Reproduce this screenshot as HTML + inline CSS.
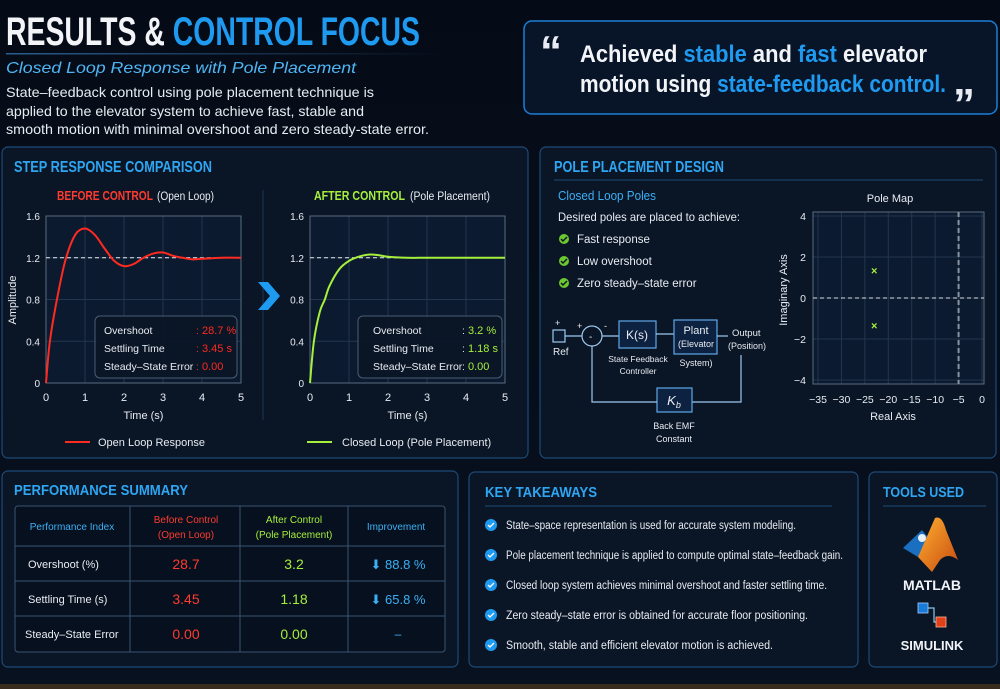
<!DOCTYPE html>
<html><head><meta charset="utf-8"><style>
html,body{margin:0;padding:0;background:#060d19;}
svg{display:block;font-family:"Liberation Sans",sans-serif;}
</style></head><body>
<svg id="root" width="1000" height="689" viewBox="0 0 1000 689" xmlns="http://www.w3.org/2000/svg">
<defs>
<linearGradient id="bg" x1="0" y1="0" x2="0" y2="1"><stop offset="0" stop-color="#050b16"/><stop offset="1" stop-color="#08111f"/></linearGradient>
<linearGradient id="hl" x1="0" y1="0" x2="1" y2="0"><stop offset="0" stop-color="#2a5d90"/><stop offset="1" stop-color="#2a5d90" stop-opacity="0"/></linearGradient>
<linearGradient id="ml" x1="0" y1="0" x2="1" y2="1"><stop offset="0" stop-color="#ffb030"/><stop offset="1" stop-color="#c84a10"/></linearGradient>
</defs>
<rect width="1000" height="689" fill="url(#bg)"/>
<rect x="0" y="684" width="1000" height="5" fill="#3a2c1c"/>

<!-- Header -->
<text x="6" y="45" font-size="40" font-weight="bold" fill="#f2f4f8" textLength="414" lengthAdjust="spacingAndGlyphs">RESULTS &amp; <tspan fill="#1e9bf0">CONTROL FOCUS</tspan></text>
<rect x="6" y="53" width="440" height="1.5" fill="url(#hl)"/>
<text x="6" y="73" font-size="16" font-style="italic" fill="#4fb6f5" textLength="350" lengthAdjust="spacingAndGlyphs">Closed Loop Response with Pole Placement</text>
<g font-size="14" fill="#e8ecf2">
<text x="6" y="97" textLength="368" lengthAdjust="spacingAndGlyphs">State–feedback control using pole placement technique is</text>
<text x="6" y="116" textLength="358" lengthAdjust="spacingAndGlyphs">applied to the elevator system to achieve fast, stable and</text>
<text x="6" y="134" textLength="423" lengthAdjust="spacingAndGlyphs">smooth motion with minimal overshoot and zero steady-state error.</text>
</g>
<g>
<rect x="524" y="21" width="473" height="93" rx="8" fill="#081428" stroke="#1a7fd6" stroke-width="1.5"/>
<text x="540" y="66" font-size="44" font-weight="bold" fill="#e8ecf2">“</text>
<text x="580" y="62" font-size="24" font-weight="bold" fill="#f2f4f8" textLength="347" lengthAdjust="spacingAndGlyphs">Achieved <tspan fill="#1e9bf0">stable</tspan> and <tspan fill="#1e9bf0">fast</tspan> elevator</text>
<text x="580" y="92" font-size="24" font-weight="bold" fill="#f2f4f8" textLength="366" lengthAdjust="spacingAndGlyphs">motion using <tspan fill="#1e9bf0">state-feedback control.</tspan></text>
<text x="953" y="119" font-size="44" font-weight="bold" fill="#e8ecf2">”</text>
</g>

<!-- Step response panel -->
<g>
<rect x="2" y="147" width="526" height="311" rx="6" fill="#0a1526" stroke="#1d4a78" stroke-width="1.2"/>
<text x="14" y="172" font-size="16" font-weight="bold" fill="#2ea6f2" textLength="198" lengthAdjust="spacingAndGlyphs">STEP RESPONSE COMPARISON</text>
<g>
<text x="57" y="200" font-size="13" font-weight="bold" fill="#ff3b2f" textLength="96" lengthAdjust="spacingAndGlyphs">BEFORE CONTROL</text>
<text x="157" y="200" font-size="11.5" fill="#e8ecf2" textLength="57" lengthAdjust="spacingAndGlyphs">(Open Loop)</text></g>
<g>
<text x="314" y="200" font-size="13" font-weight="bold" fill="#a6f03c" textLength="91" lengthAdjust="spacingAndGlyphs">AFTER CONTROL</text>
<text x="410" y="200" font-size="11.5" fill="#e8ecf2" textLength="80" lengthAdjust="spacingAndGlyphs">(Pole Placement)</text></g>
<line x1="263" y1="190" x2="263" y2="420" stroke="#1d3556" stroke-width="1"/>
<path d="M258,282 L268,282 L280,296 L268,310 L258,310 L270,296 Z" fill="#1e9bf0"/>
<g id="chartL"></g>
<g id="chartR"></g>
<text x="16" y="300" font-size="11" fill="#e8ecf2" text-anchor="middle" transform="rotate(-90 16 300)">Amplitude</text>
<g><line x1="65" y1="442" x2="90" y2="442" stroke="#ff2a20" stroke-width="2"/><text x="98" y="446" font-size="11" fill="#e8ecf2">Open Loop Response</text></g>
<g><line x1="307" y1="442" x2="332" y2="442" stroke="#a6f03c" stroke-width="2"/><text x="342" y="446" font-size="11" fill="#e8ecf2">Closed Loop (Pole Placement)</text></g>
</g>

<!-- Pole placement panel -->
<g>
<rect x="540" y="147" width="456" height="311" rx="6" fill="#0a1526" stroke="#1d4a78" stroke-width="1.2"/>
<text x="554" y="172" font-size="16" font-weight="bold" fill="#2ea6f2" textLength="170" lengthAdjust="spacingAndGlyphs">POLE PLACEMENT DESIGN</text>
<line x1="554" y1="180" x2="983" y2="180" stroke="#1d4a78"/>
<text x="558" y="200" font-size="13" fill="#3cb0f5" textLength="98" lengthAdjust="spacingAndGlyphs">Closed Loop Poles</text>
<text x="558" y="221" font-size="12" fill="#e8ecf2" textLength="182" lengthAdjust="spacingAndGlyphs">Desired poles are placed to achieve:</text>
<g font-size="11.5" fill="#e8ecf2">
<circle cx="564" cy="239" r="5" fill="#6cc830"/><path d="M561,239 l2,2 l4,-4" stroke="#0a1526" stroke-width="1.5" fill="none"/><text x="577" y="243">Fast response</text>
<circle cx="564" cy="261" r="5" fill="#6cc830"/><path d="M561,261 l2,2 l4,-4" stroke="#0a1526" stroke-width="1.5" fill="none"/><text x="577" y="265">Low overshoot</text>
<circle cx="564" cy="283" r="5" fill="#6cc830"/><path d="M561,283 l2,2 l4,-4" stroke="#0a1526" stroke-width="1.5" fill="none"/><text x="577" y="287">Zero steady–state error</text>
</g>
<g stroke="#9ec8ee" fill="none" stroke-width="1.2" font-size="10">
<rect x="553" y="330" width="12" height="12" fill="#0a1a30"/>
<line x1="565" y1="336" x2="582" y2="336"/>
<circle cx="592" cy="336" r="10"/>
<line x1="602" y1="336" x2="619" y2="336"/>
<rect x="619" y="321" width="37" height="27" fill="#0d2240" stroke="#5fa8e8"/>
<line x1="656" y1="334" x2="674" y2="334"/>
<rect x="674" y="320" width="43" height="34" fill="#0d2240" stroke="#5fa8e8"/>
<line x1="717" y1="336" x2="728" y2="336"/>
<polyline points="741,355 741,402 692,402"/>
<rect x="657" y="388" width="35" height="24" fill="#0d2240" stroke="#5fa8e8"/>
<polyline points="657,402 592,402 592,346"/>
<g fill="#e8ecf2" stroke="none">
<text x="553" y="355">Ref</text><text x="555" y="326" font-size="9">+</text><text x="577" y="329" font-size="9">+</text><text x="604" y="329" font-size="9">-</text><text x="589" y="340">-</text>
<text x="637" y="339" text-anchor="middle" font-size="12">K(s)</text>
<text x="696" y="334" text-anchor="middle" font-size="11">Plant</text><text x="696" y="347" text-anchor="middle" font-size="9">(Elevator</text>
<text x="696" y="366" text-anchor="middle" font-size="9">System)</text>
<text x="638" y="362" text-anchor="middle" font-size="8.5">State Feedback</text><text x="638" y="374" text-anchor="middle" font-size="8.5">Controller</text>
<text x="732" y="336" font-size="9.5">Output</text><text x="728" y="349" font-size="9">(Position)</text>
<text x="674" y="405" text-anchor="middle" font-size="13" font-style="italic">K<tspan font-size="9" dy="3">b</tspan></text>
<text x="674" y="429" text-anchor="middle" font-size="9">Back EMF</text><text x="674" y="442" text-anchor="middle" font-size="9">Constant</text>
</g></g>
<g id="poleMap"></g>
<text x="890" y="202" font-size="11" fill="#e8ecf2" text-anchor="middle">Pole Map</text>
<text x="893" y="420" font-size="11" fill="#e8ecf2" text-anchor="middle">Real Axis</text>
<text x="787" y="290" font-size="11" fill="#e8ecf2" text-anchor="middle" transform="rotate(-90 787 290)">Imaginary Axis</text>
</g>

<!-- Performance summary -->
<g>
<rect x="2" y="471" width="456" height="196" rx="6" fill="#0a1526" stroke="#1d4a78" stroke-width="1.2"/>
<text x="14" y="495" font-size="15" font-weight="bold" fill="#2ea6f2" textLength="174" lengthAdjust="spacingAndGlyphs">PERFORMANCE SUMMARY</text>
<g>
<rect x="15" y="506" width="430" height="146" rx="3" fill="#07101e" stroke="#3a5573"/>
<g stroke="#3a5573"><line x1="130" y1="506" x2="130" y2="652"/><line x1="240" y1="506" x2="240" y2="652"/><line x1="348" y1="506" x2="348" y2="652"/>
<line x1="15" y1="546" x2="445" y2="546"/><line x1="15" y1="581" x2="445" y2="581"/><line x1="15" y1="616" x2="445" y2="616"/></g>
<g font-size="10" text-anchor="middle">
<text x="72" y="530" fill="#3cb0f5">Performance Index</text>
<text x="186" y="523" fill="#ff3b2f">Before Control</text><text x="186" y="538" fill="#ff3b2f">(Open Loop)</text>
<text x="294" y="523" fill="#a6f03c">After Control</text><text x="294" y="538" fill="#a6f03c">(Pole Placement)</text>
<text x="396" y="530" fill="#3cb0f5">Improvement</text></g>
<g font-size="11" fill="#e8ecf2"><text x="28" y="568">Overshoot (%)</text><text x="28" y="603">Settling Time (s)</text><text x="25" y="638">Steady–State Error</text></g>
<g font-size="14" text-anchor="middle">
<text x="186" y="569" fill="#ff3b2f">28.7</text><text x="186" y="604" fill="#ff3b2f">3.45</text><text x="186" y="639" fill="#ff3b2f">0.00</text>
<text x="294" y="569" fill="#a6f03c">3.2</text><text x="294" y="604" fill="#a6f03c">1.18</text><text x="294" y="639" fill="#a6f03c">0.00</text>
<text x="398" y="569" fill="#3cb0f5" font-size="13">⬇ 88.8 %</text><text x="398" y="604" fill="#3cb0f5" font-size="13">⬇ 65.8 %</text><text x="398" y="638" fill="#3cb0f5" font-size="12">–</text></g>
</g></g>

<!-- Key takeaways -->
<g>
<rect x="469" y="472" width="389" height="195" rx="6" fill="#0a1526" stroke="#1d4a78" stroke-width="1.2"/>
<text x="485" y="497" font-size="15" font-weight="bold" fill="#2ea6f2" textLength="112" lengthAdjust="spacingAndGlyphs">KEY TAKEAWAYS</text>
<line x1="485" y1="506" x2="832" y2="506" stroke="#1d4a78"/>
<g font-size="11.5" fill="#e8ecf2">
<g><circle cx="491" cy="525" r="6" fill="#1e9bf0"/><path d="M488,525 l2,2 l4,-4" stroke="#fff" stroke-width="1.3" fill="none"/><text x="506" y="529" textLength="290" lengthAdjust="spacingAndGlyphs">State–space representation is used for accurate system modeling.</text></g>
<g><circle cx="491" cy="555" r="6" fill="#1e9bf0"/><path d="M488,555 l2,2 l4,-4" stroke="#fff" stroke-width="1.3" fill="none"/><text x="506" y="559" textLength="337" lengthAdjust="spacingAndGlyphs">Pole placement technique is applied to compute optimal state–feedback gain.</text></g>
<g><circle cx="491" cy="585" r="6" fill="#1e9bf0"/><path d="M488,585 l2,2 l4,-4" stroke="#fff" stroke-width="1.3" fill="none"/><text x="506" y="589" textLength="321" lengthAdjust="spacingAndGlyphs">Closed loop system achieves minimal overshoot and faster settling time.</text></g>
<g><circle cx="491" cy="615" r="6" fill="#1e9bf0"/><path d="M488,615 l2,2 l4,-4" stroke="#fff" stroke-width="1.3" fill="none"/><text x="506" y="619" textLength="302" lengthAdjust="spacingAndGlyphs">Zero steady–state error is obtained for accurate floor positioning.</text></g>
<g><circle cx="491" cy="645" r="6" fill="#1e9bf0"/><path d="M488,645 l2,2 l4,-4" stroke="#fff" stroke-width="1.3" fill="none"/><text x="506" y="649" textLength="267" lengthAdjust="spacingAndGlyphs">Smooth, stable and efficient elevator motion is achieved.</text></g>
</g></g>

<!-- Tools used -->
<g>
<rect x="869" y="472" width="128" height="195" rx="6" fill="#0a1526" stroke="#1d4a78" stroke-width="1.2"/>
<text x="883" y="497" font-size="15" font-weight="bold" fill="#2ea6f2" textLength="81" lengthAdjust="spacingAndGlyphs">TOOLS USED</text>
<line x1="883" y1="506" x2="986" y2="506" stroke="#1d4a78"/>
<g>
<path d="M903,548 L922,530 L930,540 L918,557 Z" fill="#1a6fc0"/>
<path d="M918,557 L935,518 Q942,515 946,530 L958,560 Q948,552 940,560 L932,572 Z" fill="url(#ml)"/>
<circle cx="922" cy="538" r="4" fill="#e8f0f8"/>
<text x="932" y="590" font-size="14" font-weight="bold" fill="#f2f4f8" text-anchor="middle">MATLAB</text></g>
<g>
<path d="M928,608 L934,608 L934,622 L946,622" stroke="#8cc8f0" fill="none" stroke-width="1.2"/>
<rect x="918" y="603" width="10" height="10" fill="#1a7ad8" stroke="#9cd0ff" stroke-width="0.8"/>
<rect x="936" y="617" width="10" height="10" fill="#e0401a" stroke="#ffb090" stroke-width="0.8"/>
<text x="932" y="650" font-size="13" font-weight="bold" fill="#f2f4f8" text-anchor="middle">SIMULINK</text></g>
</g>
</svg>
<script>
// ---- Step response data ----
const openTimes = [0, 0.1, 0.28, 0.5, 0.75, 1.0, 1.25, 1.5, 1.75, 2.0, 2.25, 2.5, 2.75, 3.0, 3.25, 3.5, 3.75, 4.0, 4.5, 5.0];
const openValues = [0, 0.4, 0.8, 1.18, 1.42, 1.48, 1.42, 1.29, 1.17, 1.12, 1.14, 1.2, 1.24, 1.25, 1.22, 1.2, 1.185, 1.19, 1.2, 1.2];
const closedTimes = [0, 0.1, 0.25, 0.38, 0.5, 0.75, 1.0, 1.25, 1.5, 1.75, 2.0, 2.5, 3.0, 4.0, 5.0];
const closedValues = [0, 0.4, 0.68, 0.8, 0.93, 1.09, 1.17, 1.21, 1.23, 1.225, 1.21, 1.2, 1.2, 1.2, 1.2];
const finalValue = 1.2;
const ampTicks = [0, 0.4, 0.8, 1.2, 1.6];
const timeTicks = [0, 1, 2, 3, 4, 5];
const openStats = ["28.7 %", "3.45 s", "0.00"];
const closedStats = ["3.2 %", "1.18 s", "0.00"];
const statLabels = ["Overshoot", "Settling Time", "Steady–State Error"];
// ---- Pole map data ----
const poleReal = [-23, -23];
const poleImag = [1.35, -1.35];
const realTicks = [-35, -30, -25, -20, -15, -10, -5, 0];
const imagTicks = [-4, -2, 0, 2, 4];
const dominantLimit = -5;

const NS = "http://www.w3.org/2000/svg";
function mk(tag, attrs, parent) { const e = document.createElementNS(NS, tag); for (const k in attrs) e.setAttribute(k, attrs[k]); parent.appendChild(e); return e; }

function smoothPath(pts) {
  let d = "M" + pts[0][0] + "," + pts[0][1];
  for (let i = 0; i < pts.length - 1; i++) {
    const p0 = pts[i - 1] || pts[i], p1 = pts[i], p2 = pts[i + 1], p3 = pts[i + 2] || p2;
    const c1 = [p1[0] + (p2[0] - p0[0]) / 6, p1[1] + (p2[1] - p0[1]) / 6];
    const c2 = [p2[0] - (p3[0] - p1[0]) / 6, p2[1] - (p3[1] - p1[1]) / 6];
    d += " C" + c1 + " " + c2 + " " + p2;
  }
  return d;
}

function stepChart(g, x0, x1, times, vals, color, statsVals, box, labelX, colonX, valX, colonColor) {
  const y0 = 383, y1 = 216;
  const sx = t => x0 + (t / 5) * (x1 - x0);
  const sy = v => y0 - (v / 1.6) * (y0 - y1);
  const bg = mk("rect", { x: x0, y: y1, width: x1 - x0, height: y0 - y1, fill: "#0b1a2e", stroke: "#5a6b80", "stroke-width": 1 }, g);
  
  
  ampTicks.forEach(v => {
    mk("line", { x1: x0, x2: x1, y1: sy(v), y2: sy(v), stroke: "#23364f", "stroke-width": 1 }, g);
    const t = mk("text", { x: x0 - 6, y: sy(v) + 4, "font-size": 10, fill: "#e8ecf2", "text-anchor": "end" }, g);
    t.textContent = v === 0 ? "0" : v.toFixed(1);
    
    
  });
  timeTicks.forEach(v => {
    mk("line", { x1: sx(v), x2: sx(v), y1: y1, y2: y0, stroke: "#23364f", "stroke-width": 1 }, g);
    const t = mk("text", { x: sx(v), y: 401, "font-size": 11, fill: "#e8ecf2", "text-anchor": "middle" }, g);
    t.textContent = v;
    
    
  });
  mk("rect", { x: x0, y: y1, width: x1 - x0, height: y0 - y1, fill: "none", stroke: "#5a6b80", "stroke-width": 1 }, g);
  const ref = mk("line", { x1: x0, x2: x1, y1: sy(finalValue), y2: sy(finalValue), stroke: "#e8ecf2", "stroke-width": 1, "stroke-dasharray": "4,3" }, g);
  
  
  const pts = times.map((t, i) => [sx(t), sy(vals[i])]);
  const p = mk("path", { d: smoothPath(pts), fill: "none", stroke: color, "stroke-width": 2 }, g);
  
  
  const b = mk("rect", { x: box[0], y: 316, width: box[1], height: 62, rx: 5, fill: "#0a1526", "fill-opacity": 0.9, stroke: "#4a5d74" }, g);
  
  
  statLabels.forEach((l, i) => {
    const yy = 334 + i * 18;
    const a = mk("text", { x: labelX, y: yy, "font-size": 10.5, fill: "#e8ecf2" }, g); a.textContent = l;
    
    
    const c = mk("text", { x: colonX, y: yy, "font-size": 10.5, fill: colonColor }, g); c.textContent = ":";
    const v = mk("text", { x: valX, y: yy, "font-size": 11, fill: color }, g); v.textContent = statsVals[i];
    
    
  });
  const tt = mk("text", { x: (x0 + x1) / 2, y: 419, "font-size": 11, fill: "#e8ecf2", "text-anchor": "middle" }, g);
  tt.textContent = "Time (s)";
  
  
}
stepChart(document.getElementById("chartL"), 46, 241, openTimes, openValues, "#ff2a20", openStats, [95, 142], 104, 196, 202, "#ff2a20");
stepChart(document.getElementById("chartR"), 310, 505, closedTimes, closedValues, "#a6f03c", closedStats, [358, 144], 373, 462, 468, "#e8ecf2");

(function () {
  const g = document.getElementById("poleMap");
  const X0 = 818, X1 = 982, Y0 = 380, Y1 = 216;
  const sx = r => X0 + (r + 35) / 35 * (X1 - X0);
  const sy = v => Y0 - (v + 4) / 8 * (Y0 - Y1);
  mk("rect", { x: 813, y: 212, width: 171, height: 172, fill: "#0b1a2e" }, g);
  realTicks.forEach(r => {
    mk("line", { x1: sx(r), x2: sx(r), y1: 212, y2: 384, stroke: "#23364f" }, g);
    const t = mk("text", { x: sx(r), y: 403, "font-size": 10.5, fill: "#e8ecf2", "text-anchor": "middle" }, g);
    t.textContent = r === 0 ? "0" : "−" + Math.abs(r);
    
    
  });
  imagTicks.forEach(v => {
    mk("line", { x1: 813, x2: 984, y1: sy(v), y2: sy(v), stroke: "#23364f" }, g);
    const t = mk("text", { x: 806, y: sy(v) + 4, "font-size": 10.5, fill: "#e8ecf2", "text-anchor": "end" }, g);
    t.textContent = v < 0 ? "−" + Math.abs(v) : v;
    
    
  });
  mk("rect", { x: 813, y: 212, width: 171, height: 172, fill: "none", stroke: "#5a6b80" }, g);
  const h = mk("line", { x1: 813, x2: 984, y1: sy(0), y2: sy(0), stroke: "#d8dde4", "stroke-dasharray": "4,3" }, g);
  
  
  const v = mk("line", { x1: sx(dominantLimit), x2: sx(dominantLimit), y1: 212, y2: 384, stroke: "#8a94a0", "stroke-width": 2, "stroke-dasharray": "5,3" }, g);
  
  
  poleReal.forEach((r, i) => {
    const t = mk("text", { x: sx(r), y: sy(poleImag[i]) + 4, "font-size": 11, fill: "#a6f03c", "text-anchor": "middle", "font-weight": "bold" }, g);
    t.textContent = "×";
    
    
  });
})();
</script>
</body></html>
